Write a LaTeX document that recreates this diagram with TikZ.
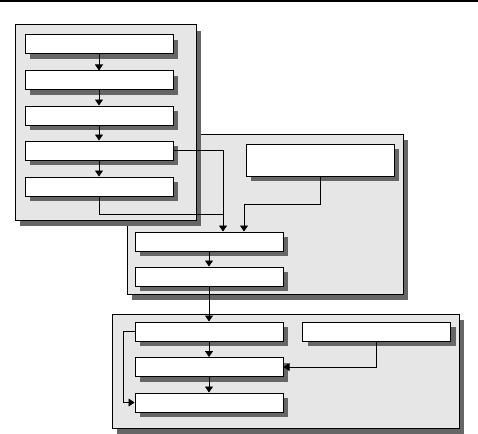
\documentclass[tikz,border=0pt]{standalone}
\usetikzlibrary{shadows,arrows.meta}
\definecolor{PanelGray}{HTML}{E6E6E6}
\definecolor{ShadowGray}{HTML}{666666}

\tikzset{
  panel/.style={draw=black,line width=1pt,fill=PanelGray,
    drop shadow={shadow xshift=5pt,shadow yshift=-6pt,fill=ShadowGray,opacity=1}},
  stage/.style={draw=black,line width=1pt,fill=white,minimum width=148pt,minimum height=19pt,
    inner sep=0pt,drop shadow={shadow xshift=5pt,shadow yshift=-5pt,fill=ShadowGray,opacity=1}},
  link/.style={line width=0.8pt},
  arr/.style={link,-{Triangle[width=8pt,length=6pt]}}
}

\begin{document}
\begin{tikzpicture}[x=1pt,y=-1pt]
\useasboundingbox (0,0) rectangle (478,433);
\draw[line width=2pt] (0,1)--(478,1);
% panels
\path[panel] (127,134) rectangle (403,294);
\path[panel] (112,314) rectangle (459,428);
\path[panel] (15,25) rectangle (196,220);
% first panel
\node[stage] (s1) at (99,44.5) {};
\node[stage] (s2) at (99,80.5) {};
\node[stage] (s3) at (99,115.5) {};
\node[stage] (s4) at (99,150.5) {};
\node[stage] (s5) at (99,186.5) {};
\foreach \a/\b in {s1/s2,s2/s3,s3/s4,s4/s5} \draw[arr] (\a.south) -- (\b.north);
% second panel
\node[stage,minimum height=32pt] (sR) at (320,160) {};
\node[stage] (sA) at (209,241.5) {};
\node[stage] (sB) at (209,276.5) {};
\coordinate (jL) at (223,214);
\coordinate (jR) at (244,204);
\draw[arr] (s4.east) -| (jL |- sA.north);
\draw[link] (s5.south) |- (jL);
\draw[arr] (sR.south) |- (jR) -- (jR |- sA.north);
\draw[arr] (sA.south) -- (sB.north);
% third panel
\node[stage] (sC) at (209,331.5) {};
\node[stage] (sD) at (376.5,331.5) {};
\node[stage] (sE) at (209,367) {};
\node[stage] (sF) at (209,402.5) {};
\draw[arr] (sB.south) -- (sC.north);
\draw[arr] (sC.south) -- (sE.north);
\draw[arr] (sE.south) -- (sF.north);
\draw[arr] (sD.south) |- (sE.east);
\draw[arr] (sC.west) -- ++(-11,0) |- (sF.west);
\end{tikzpicture}
\end{document}
